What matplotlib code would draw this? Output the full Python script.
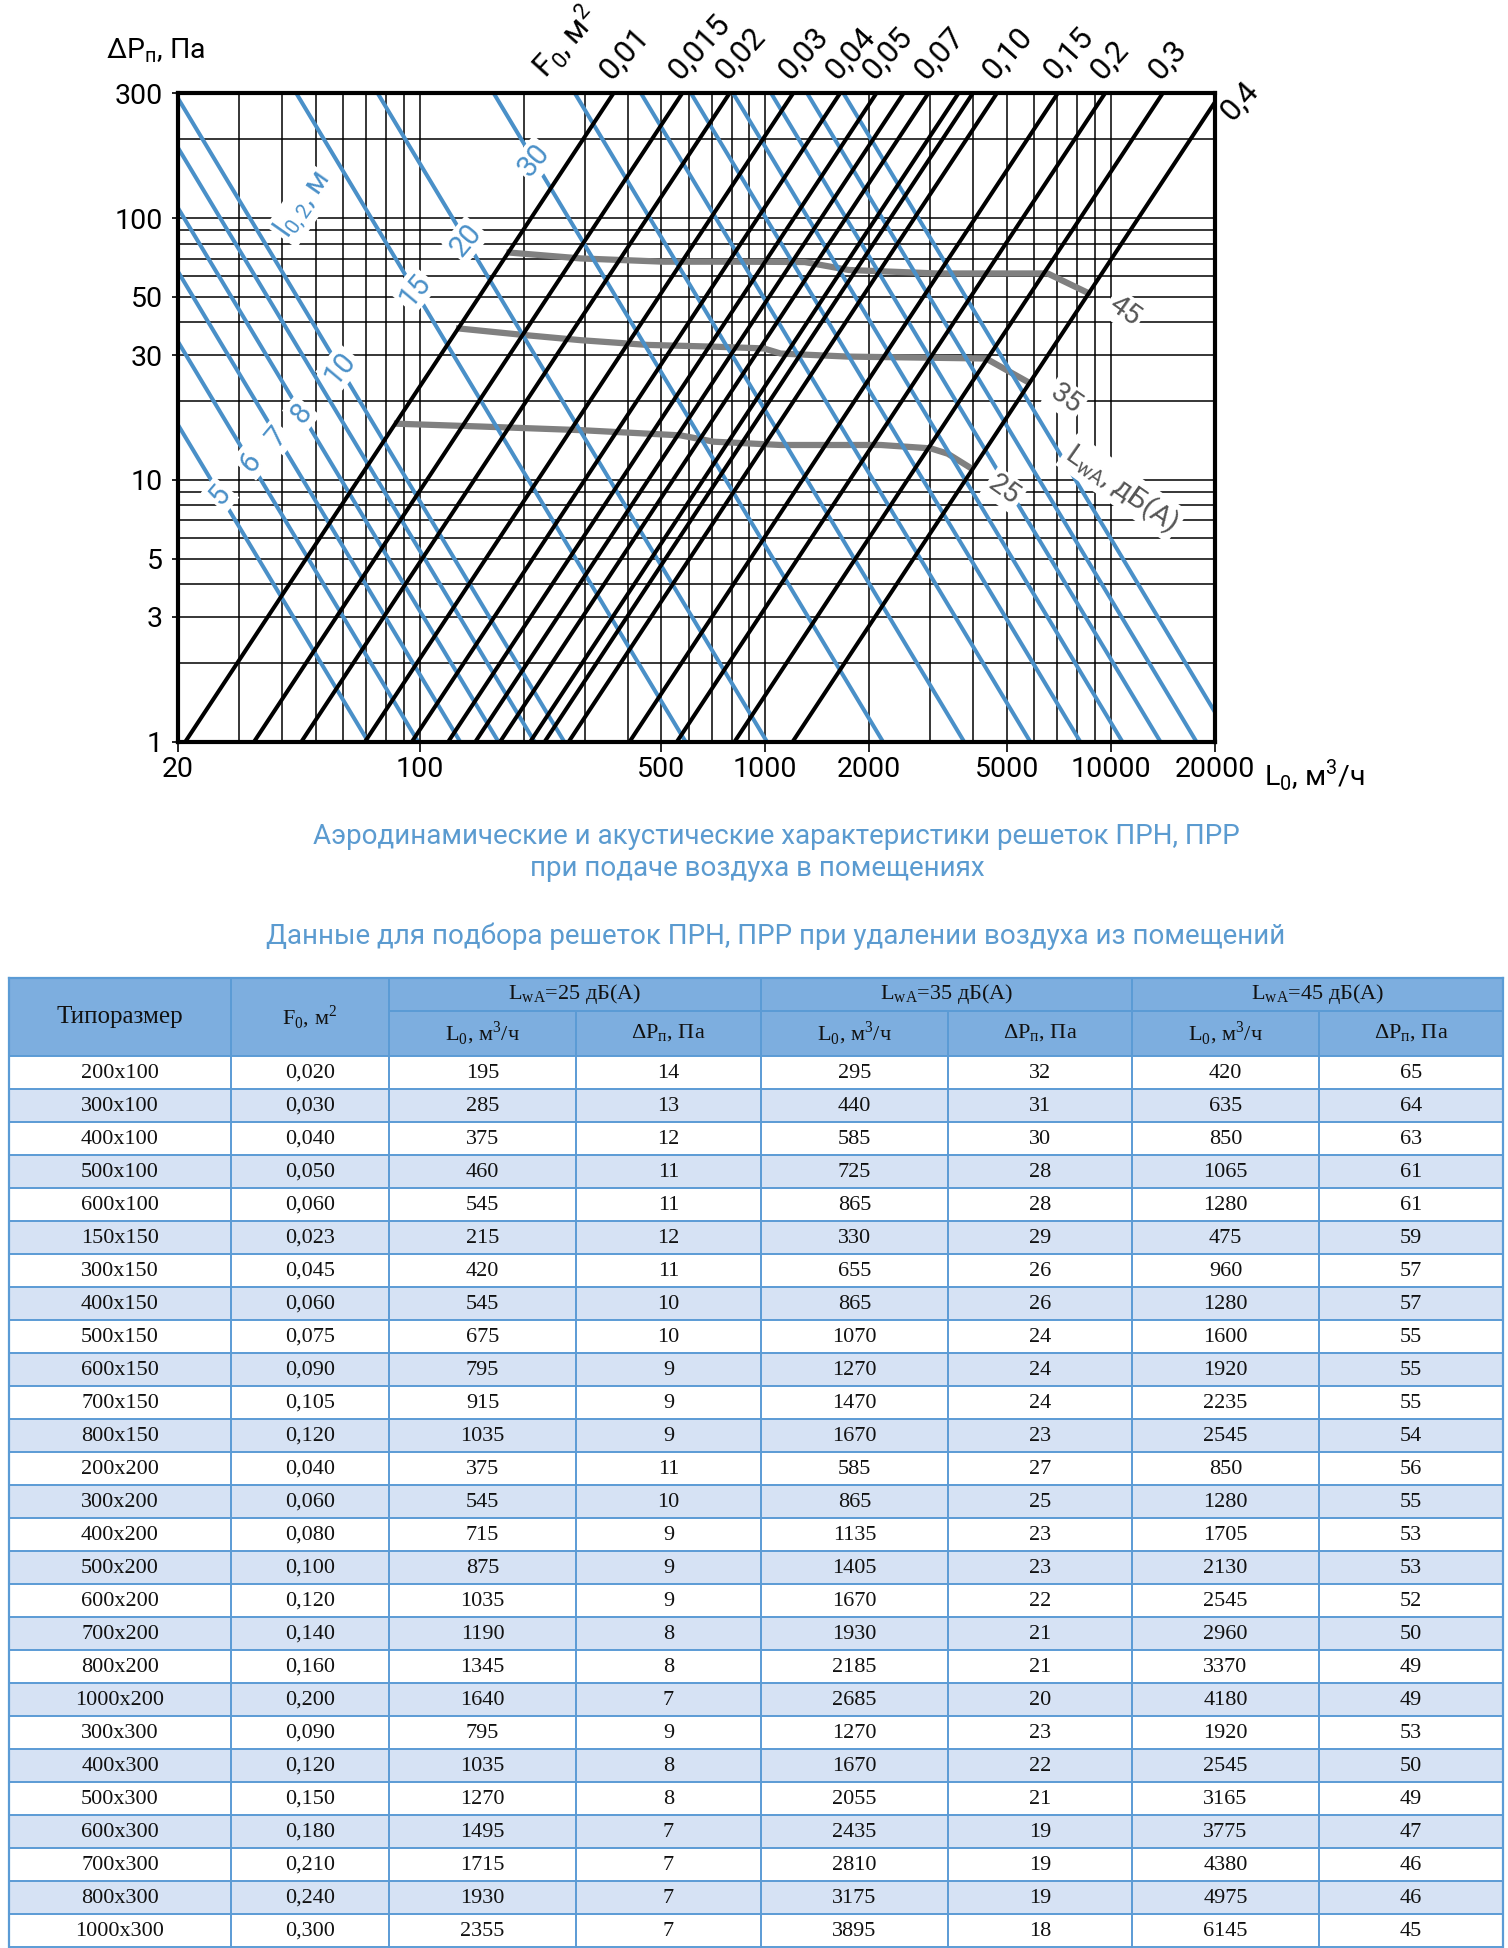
import numpy as np
import matplotlib
matplotlib.use("Agg")
import matplotlib.pyplot as plt
from matplotlib.patches import Rectangle
from matplotlib.ticker import NullFormatter

plt.rcParams['font.family'] = ['Roboto', 'DejaVu Sans']

# --- диаграмма ---
# линии F0 (чёрные): расход L0 при dP = 1 Па, dP ~ L0^2
f0_labels = ["0,01", "0,015", "0,02", "0,03", "0,04", "0,05", "", "0,07",
             "", "", "0,10", "0,15", "0,2", "0,3", "0,4"]
f0_L1 = [21, 33.2, 45.5, 69.5, 95, 121, 145, 171, 209, 230, 270, 405, 555, 815, 1200]

# линии l0,2 (синие): расход L0 при dP = 1 Па, dP ~ L0^-2.2
l02_values = [5, 6, 7, 8, 9, 10, 15, 20, 30, 40, 50, 60, 70, 80, 90, 100]
l02_L1 = [71, 99, 131, 169, 215, 262, 588, 1011, 2190, 3760, 5840, 8150,
          10790, 13900, 17670, 22500]
l02_slope = 2.2

# кривые уровня шума LwA
lwa_25_L = [86, 150, 292, 569, 710, 1108, 2160, 3013, 3370, 3890]
lwa_25_P = [16.4, 16.0, 15.5, 14.8, 14.0, 13.6, 13.6, 13.2, 12.6, 11.2]
lwa_35_L = [130, 200, 292, 456, 710, 991, 1108, 1730, 4350, 5740]
lwa_35_P = [37.9, 35.8, 34.2, 32.8, 32.3, 31.8, 30.4, 29.6, 29.1, 23.7]
lwa_45_L = [182, 292, 508, 849, 1300, 1745, 3135, 6560, 8590]
lwa_45_P = [73.9, 70.2, 68.2, 68.2, 68.0, 63.4, 61.5, 61.5, 51.8]

x_ticks = [20, 100, 500, 1000, 2000, 5000, 10000, 20000]
x_ticklabels = ["20", "100", "500", "1000", "2000", "5000", "10000", "20000"]
y_ticks = [1, 3, 5, 10, 30, 50, 100, 300]
y_ticklabels = ["1", "3", "5", "10", "30", "50", "100", "300"]

# --- таблица ---
sizes = ["200x100", "300x100", "400x100", "500x100", "600x100", "150x150",
         "300x150", "400x150", "500x150", "600x150", "700x150", "800x150",
         "200x200", "300x200", "400x200", "500x200", "600x200", "700x200",
         "800x200", "1000x200", "300x300", "400x300", "500x300", "600x300",
         "700x300", "800x300", "1000x300"]
f0_area = [0.020, 0.030, 0.040, 0.050, 0.060, 0.023, 0.045, 0.060, 0.075,
           0.090, 0.105, 0.120, 0.040, 0.060, 0.080, 0.100, 0.120, 0.140,
           0.160, 0.200, 0.090, 0.120, 0.150, 0.180, 0.210, 0.240, 0.300]
L_25 = [195, 285, 375, 460, 545, 215, 420, 545, 675, 795, 915, 1035, 375, 545,
        715, 875, 1035, 1190, 1345, 1640, 795, 1035, 1270, 1495, 1715, 1930, 2355]
P_25 = [14, 13, 12, 11, 11, 12, 11, 10, 10, 9, 9, 9, 11, 10, 9, 9, 9, 8, 8, 7,
        9, 8, 8, 7, 7, 7, 7]
L_35 = [295, 440, 585, 725, 865, 330, 655, 865, 1070, 1270, 1470, 1670, 585,
        865, 1135, 1405, 1670, 1930, 2185, 2685, 1270, 1670, 2055, 2435, 2810,
        3175, 3895]
P_35 = [32, 31, 30, 28, 28, 29, 26, 26, 24, 24, 24, 23, 27, 25, 23, 23, 22, 21,
        21, 20, 23, 22, 21, 19, 19, 19, 18]
L_45 = [420, 635, 850, 1065, 1280, 475, 960, 1280, 1600, 1920, 2235, 2545, 850,
        1280, 1705, 2130, 2545, 2960, 3370, 4180, 1920, 2545, 3165, 3775, 4380,
        4975, 6145]
P_45 = [65, 64, 63, 61, 61, 59, 57, 57, 55, 55, 55, 54, 56, 55, 53, 53, 52, 50,
        49, 49, 53, 50, 49, 47, 46, 46, 45]

blue = '#4A90C8'
gray = '#808080'
cap_blue = '#5B9BD0'
W, H = 1508, 1948

fig = plt.figure(figsize=(W / 100, H / 100), dpi=100)
bg = fig.add_axes([0, 0, 1, 1])
bg.set_xlim(0, W)
bg.set_ylim(H, 0)
bg.axis('off')

ax = fig.add_axes([178 / W, 1 - 741.7 / H, (1215 - 178) / W, (741.7 - 93.3) / H])
ax.set_xscale('log')
ax.set_yscale('log')
ax.set_xlim(20, 20000)
ax.set_ylim(1, 300)

# сетка
x_grid = [m * 10 ** k for k in (1, 2, 3) for m in range(2, 10)] + [100, 1000, 10000]
y_grid = [m * 10 ** k for k in (0, 1) for m in range(2, 10)] + [10, 100, 200]
ax.set_xticks(x_ticks)
ax.set_xticklabels(x_ticklabels)
ax.set_yticks(y_ticks)
ax.set_yticklabels(y_ticklabels)
ax.set_xticks([v for v in x_grid if v not in x_ticks], minor=True)
ax.set_yticks([v for v in y_grid if v not in y_ticks], minor=True)
ax.xaxis.set_minor_formatter(NullFormatter())
ax.yaxis.set_minor_formatter(NullFormatter())
ax.tick_params(which='minor', length=0)
ax.tick_params(axis='x', which='major', length=7, width=1.2, labelsize=20.5, pad=3)
ax.tick_params(axis='y', which='major', length=4, width=1.2, labelsize=20.5, pad=7)
ax.grid(True, which='both', color='black', lw=1.1)
for sp in ax.spines.values():
    sp.set_linewidth(3)

# кривые LwA
for Ls, Ps in ((lwa_25_L, lwa_25_P), (lwa_35_L, lwa_35_P), (lwa_45_L, lwa_45_P)):
    ax.plot(Ls, Ps, color=gray, lw=4.5, zorder=2, solid_joinstyle='round')

# синие линии l0,2
l02_label_P = {5: 8.76, 6: 11.7, 7: 14.6, 8: 18.0, 10: 26.8, 15: 53.1, 20: 82.5, 30: 166.7}
blue_box = dict(boxstyle='square,pad=0.08', fc='white', ec='none')
for l, L1 in zip(l02_values, l02_L1):
    L = np.array([L1 / 300 ** (1 / l02_slope), L1])
    ax.plot(L, (L1 / L) ** l02_slope, color=blue, lw=2.9, zorder=2.5)
    if l in l02_label_P:
        P = l02_label_P[l]
        ax.text(L1 / P ** (1 / l02_slope), P, str(l), rotation=50, ha='center',
                va='center', color=blue, fontsize=21, zorder=6, bbox=blue_box)
ax.text(46.1, 112, "l$_\\mathregular{0,2}$, м", rotation=55, ha='center', va='center',
        color=blue, fontsize=21, zorder=6, bbox=blue_box)

# чёрные линии F0
for lab, L1 in zip(f0_labels, f0_L1):
    L = np.array([L1, L1 * np.sqrt(300)])
    ax.plot(L, (L / L1) ** 2, color='black', lw=2.9, zorder=3)
    if lab:
        Lt = min(L1 * np.sqrt(300), 20000)
        Pt = (Lt / L1) ** 2
        off = (1, 6) if Pt >= 299 else (15, -17)
        ax.annotate(lab, (Lt, Pt), xytext=off, textcoords='offset points',
                    rotation=48, rotation_mode='anchor', ha='left', va='bottom',
                    fontsize=22.5, annotation_clip=False)
ax.annotate("F$_\\mathregular{0}$, м$^\\mathregular{2}$", (240, 300), xytext=(1, 6),
            textcoords='offset points', rotation=48, rotation_mode='anchor',
            ha='left', va='bottom', fontsize=22.5, annotation_clip=False)

# подписи LwA
lwa_box = dict(boxstyle='square,pad=0.1', fc='white', ec='none')
for txt, Lx, Py in (("45", 10950, 44.2), ("35", 7390, 20.4), ("25", 4920, 9.15)):
    ax.text(Lx, Py, txt, rotation=-35, ha='center', va='center', color='#555555',
            fontsize=20.5, zorder=6, bbox=lwa_box)
ax.text(10770, 9.3, "L$_\\mathregular{wA}$, дБ(А)", rotation=-35, ha='center',
        va='center', color='#555555', fontsize=20.5, zorder=6, bbox=lwa_box)

# подписи осей
bg.text(106, 51, "ΔP$_\\mathregular{п}$, Па", ha='left', va='center', fontsize=20.5)
bg.text(1264, 775, "L$_\\mathregular{0}$, м$^\\mathregular{3}$/ч", ha='left',
        va='center', fontsize=20.5)

# подписи
bg.text(776, 836, "Аэродинамические и акустические характеристики решеток ПРН, ПРР",
        ha='center', va='center', fontsize=20, color=cap_blue)
bg.text(757, 868, "при подаче воздуха в помещениях", ha='center', va='center',
        fontsize=20, color=cap_blue)
bg.text(776, 936, "Данные для подбора решеток ПРН, ПРР при удалении воздуха из помещений",
        ha='center', va='center', fontsize=20, color=cap_blue)

# таблица
col_x = [9, 231, 389, 576, 761, 948, 1132, 1319, 1503]
head_top, head_mid, head_bot = 978, 1011, 1056
row_h = 33
line_c = '#5B9BD5'
tfont = dict(family='Liberation Serif', fontsize=16, ha='center', va='center',
             color='#111111')

bg.add_patch(Rectangle((col_x[0], head_top), col_x[-1] - col_x[0], head_bot - head_top,
                       fc='#7DAEDF', ec='none'))
n = len(sizes)
for i in range(n):
    y0 = head_bot + i * row_h
    bg.add_patch(Rectangle((col_x[0], y0), col_x[-1] - col_x[0], row_h,
                           fc='white' if i % 2 == 0 else '#D6E2F4', ec='none'))
    vals = [sizes[i], f"{f0_area[i]:.3f}".replace('.', ','), L_25[i], P_25[i],
            L_35[i], P_35[i], L_45[i], P_45[i]]
    for j, v in enumerate(vals):
        bg.text((col_x[j] + col_x[j + 1]) / 2, y0 + row_h / 2 + 1, str(v), **tfont)

bottom = head_bot + n * row_h
for i in range(n + 1):
    bg.plot([col_x[0], col_x[-1]], [head_bot + i * row_h] * 2, color=line_c, lw=1.4)
bg.plot([col_x[0], col_x[-1]], [head_top] * 2, color=line_c, lw=1.6)
bg.plot([col_x[2], col_x[-1]], [head_mid] * 2, color=line_c, lw=1.4)
for j, x in enumerate(col_x):
    top = head_mid if j in (3, 5, 7) else head_top
    bg.plot([x, x], [top, bottom], color=line_c, lw=1.6 if j in (0, 8) else 1.4)

bg.text((col_x[0] + col_x[1]) / 2, (head_top + head_bot) / 2, "Типоразмер",
        **{**tfont, 'fontsize': 18})
bg.text((col_x[1] + col_x[2]) / 2, (head_top + head_bot) / 2,
        "F$_\\mathregular{0}$, м$^\\mathregular{2}$", **tfont)
for k, db in enumerate((25, 35, 45)):
    xa, xb, xc = col_x[2 + 2 * k], col_x[3 + 2 * k], col_x[4 + 2 * k]
    bg.text((xa + xc) / 2, (head_top + head_mid) / 2,
            f"L$_\\mathregular{{wA}}$={db} дБ(А)", **tfont)
    bg.text((xa + xb) / 2, (head_mid + head_bot) / 2,
            "L$_\\mathregular{0}$, м$^\\mathregular{3}$/ч", **tfont)
    bg.text((xb + xc) / 2, (head_mid + head_bot) / 2,
            "ΔP$_\\mathregular{п}$, Па", **tfont)

fig.savefig("out.png", dpi=100, facecolor='white')
